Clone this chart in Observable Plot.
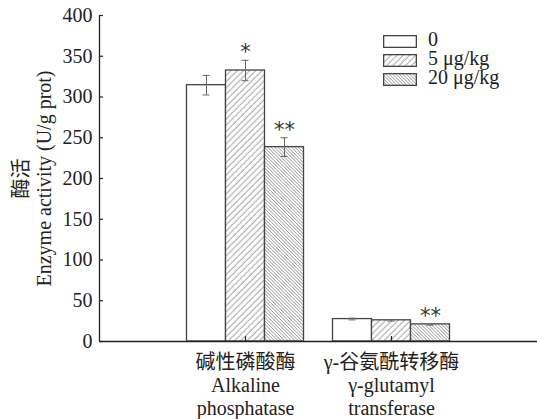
<!DOCTYPE html>
<html>
<head>
<meta charset="utf-8">
<script src="https://cdn.jsdelivr.net/npm/d3@7"></script>
<script src="https://cdn.jsdelivr.net/npm/@observablehq/plot@0.6"></script>
<style>
  body { margin: 0; background: #fff; }
  #wrap { position: relative; width: 537px; height: 419px; font-family: "Liberation Serif", "Noto Sans CJK SC", serif; }
  #legend { position: absolute; left: 383px; top: 32px; font-size: 20px; color: #222; }
  #legend .row { display: flex; align-items: center; height: 19px; }
  #legend .row span { margin-left: 11px; position: relative; top: -2px; line-height: 17px; }
</style>
</head>
<body>
<svg width="0" height="0" style="position:absolute">
  <defs>
    <pattern id="hatch5" patternUnits="userSpaceOnUse" width="4.4" height="4.4" patternTransform="rotate(45)">
      <rect width="4.4" height="4.4" fill="white"/>
      <line x1="2" y1="0" x2="2" y2="4.4" stroke="#9a9a9a" stroke-width="0.9"/>
    </pattern>
    <pattern id="hatch20" patternUnits="userSpaceOnUse" width="2.4" height="2.4" patternTransform="rotate(-45)">
      <rect width="2.4" height="2.4" fill="white"/>
      <line x1="1.2" y1="0" x2="1.2" y2="2.4" stroke="#a0a0a0" stroke-width="0.8"/>
    </pattern>
  </defs>
</svg>
<div id="wrap"><div id="legend"></div></div>
<script>
// ---- data ----
const categories = ["碱性磷酸酶\nAlkaline\nphosphatase", "γ-谷氨酰转移酶\nγ-glutamyl\ntransferase"];
const series = ["0", "5 μg/kg", "20 μg/kg"];
const values0 = [314.5, 27.5];
const values5 = [332.5, 26];
const values20 = [238.5, 21];
const errors0 = [12, 1];
const errors5 = [12.5, 1];
const errors20 = [11.5, 1];
const sig0 = ["", ""];
const sig5 = ["*", ""];
const sig20 = ["**", "**"];
const yTicks = [0, 50, 100, 150, 200, 250, 300, 350, 400];
const yTitle = "酶活\nEnzyme activity (U/g prot)";

const fills = ["white", "url(#hatch5)", "url(#hatch20)"];
const valueSets = [values0, values5, values20];
const errorSets = [errors0, errors5, errors20];
const sigSets = [sig0, sig5, sig20];

const barW = 39 / 146; // bar width in group units
const rows = categories.flatMap((c, i) => series.map((s, j) => {
  const x1 = i + 1 + (j - 1.5) * barW;
  return {cat: c, s, j, x1, x2: x1 + barW, xc: x1 + barW / 2,
          value: valueSets[j][i], err: errorSets[j][i], sig: sigSets[j][i], fill: fills[j]};
}));
const capW = 3.5 / 146;

const font = `"Liberation Serif", "Noto Sans CJK SC", serif`;

const chart = Plot.plot({
  width: 537,
  height: 419,
  marginLeft: 99,
  marginRight: 0,
  marginTop: 15,
  marginBottom: 78,
  style: {fontSize: "20px", color: "#222", background: "transparent"},
  x: {type: "linear", domain: [0, 3]},
  y: {domain: [0, 400]},
  marks: [
    Plot.rectY(rows, {x1: "x1", x2: "x2", y1: 0, y2: "value", fill: d => d.fill, stroke: "#444", strokeWidth: 1.3}),
    Plot.ruleX(rows, {x: "xc", y1: d => d.value - d.err, y2: d => d.value + d.err, stroke: "#666", strokeWidth: 1}),
    Plot.ruleY(rows, {y: d => d.value + d.err, x1: d => d.xc - capW, x2: d => d.xc + capW, stroke: "#666", strokeWidth: 1}),
    Plot.ruleY(rows, {y: d => d.value - d.err, x1: d => d.xc - capW, x2: d => d.xc + capW, stroke: "#666", strokeWidth: 1}),
    Plot.text(rows.filter(d => d.sig), {x: "xc", y: d => d.value + d.err, text: "sig", dy: -1, lineAnchor: "bottom", fontSize: 21, fill: "#333", className: "sig", letterSpacing: "-1px"}),
    Plot.ruleX([0], {stroke: "#222", strokeWidth: 1.3}),
    Plot.ruleY([0], {stroke: "#222", strokeWidth: 1.3}),
    Plot.tickY(yTicks, {y: d => d, insetRight: 533 - 99, stroke: "#222", strokeWidth: 1.2}),
    Plot.tickX([1, 2], {x: d => d, insetTop: 326 - 5, stroke: "#222", strokeWidth: 1.2}),
    Plot.axisY({ticks: yTicks, tickSize: 0, tickPadding: 7, label: null, fill: "#222", fontSize: 20}),
    Plot.axisX({ticks: [1, 2], tickFormat: d => categories[d - 1], tickSize: 0, tickPadding: 11, lineHeight: 1.16, label: null, fill: "#222", fontSize: 20}),
    Plot.text([yTitle], {frameAnchor: "left", textAnchor: "middle", rotate: -90, dx: -67.5, text: d => d, lineHeight: 1.15, fill: "#222", fontSize: 20})
  ]
});
document.getElementById("wrap").prepend(chart);
// force serif face on all chart text (asterisks use a sans face)
d3.select(chart).selectAll("text, tspan").style("font-family", font);
d3.select(chart).selectAll(".sig text, .sig tspan").style("font-family", "'DejaVu Sans', sans-serif");

// legend
const legend = d3.select("#legend");
series.forEach((s, j) => {
  const row = legend.append("div").attr("class", "row");
  const sw = row.append("svg").attr("width", 34).attr("height", 13);
  sw.append("rect").attr("x", 0.65).attr("y", 0.65).attr("width", 32.7).attr("height", 11.7)
    .attr("fill", fills[j]).attr("stroke", "#444").attr("stroke-width", 1.3);
  row.append("span").text(s);
});
</script>
</body>
</html>
